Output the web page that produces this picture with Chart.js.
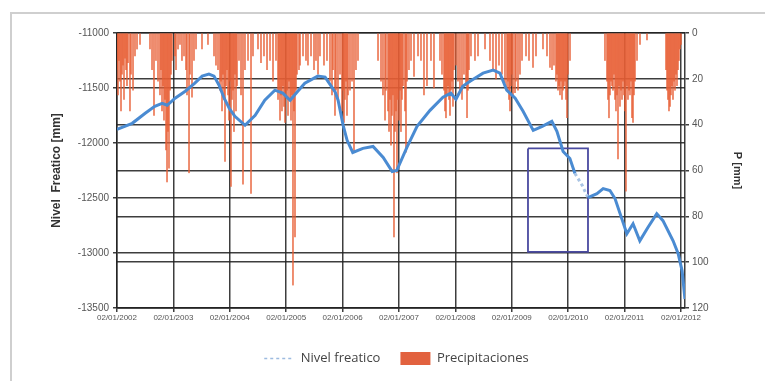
<!DOCTYPE html>
<html>
<head>
<meta charset="utf-8">
<script src="https://cdn.jsdelivr.net/npm/chart.js@4.4.1/dist/chart.umd.min.js"></script>
<style>
  html, body { margin: 0; padding: 0; background: #fff; }
  #wrap { position: relative; width: 765px; height: 381px; overflow: hidden; }
  #frame { position: absolute; left: 10px; top: 12px; width: 800px; height: 400px; border: 2px solid #cfcfcf; box-sizing: border-box; }
  canvas { position: absolute; left: 0; top: 0; }
</style>
</head>
<body>
<div id="wrap">
  <div id="frame"></div>
  <canvas id="c" width="765" height="381"></canvas>
</div>
<script>
// ---- Data ----
const yearTicks = [2002, 2003, 2004, 2005, 2006, 2007, 2008, 2009, 2010, 2011, 2012];

// Groundwater level (decimal year, mm)
const levelYear = [2002.00,2002.27,2002.50,2002.67,2002.80,2002.89,2003.03,2003.21,2003.38,2003.51,2003.63,2003.72,2003.81,2003.90,2003.99,2004.09,2004.27,2004.45,2004.62,2004.80,2004.94,2005.07,2005.19,2005.33,2005.56,2005.69,2005.87,2005.92,2006.01,2006.08,2006.18,2006.36,2006.54,2006.72,2006.88,2006.96,2007.14,2007.32,2007.55,2007.78,2007.92,2008.01,2008.13,2008.26,2008.49,2008.67,2008.79,2008.91,2009.06,2009.20,2009.38,2009.54,2009.71,2009.80,2009.91,2010.03,2010.12,2010.25,2010.35,2010.51,2010.62,2010.74,2010.83,2010.92,2011.04,2011.15,2011.27,2011.41,2011.57,2011.68,2011.86,2011.95,2012.02,2012.07];
const levelMm = [-11876,-11821,-11730,-11666,-11639,-11657,-11593,-11529,-11456,-11392,-11374,-11392,-11474,-11593,-11684,-11757,-11839,-11748,-11611,-11520,-11547,-11611,-11538,-11456,-11392,-11401,-11538,-11611,-11839,-11976,-12086,-12049,-12031,-12131,-12259,-12250,-12040,-11849,-11703,-11584,-11547,-11602,-11484,-11438,-11365,-11338,-11365,-11520,-11593,-11712,-11885,-11849,-11803,-11894,-12077,-12141,-12277,-12387,-12496,-12460,-12414,-12432,-12505,-12642,-12825,-12734,-12889,-12770,-12642,-12706,-12889,-13007,-13162,-13418];
// interval where the level record is interpolated (drawn dashed)
const gapFrom = 2010.12, gapTo = 2010.35;

// Precipitation (decimal year, mm)
const precipYear = [
 2002.000,2002.018,2002.035,2002.053,2002.071,2002.089,2002.106,2002.124,2002.142,2002.160,2002.177,2002.195,2002.230,2002.248,2002.284,2002.319,2002.355,2002.408,
 2002.585,2002.621,2002.656,2002.691,2002.727,2002.762,2002.780,2002.798,2002.816,2002.833,2002.851,2002.869,2002.887,2002.904,2002.922,2002.940,2002.957,2002.975,
 2003.028,2003.046,2003.082,2003.117,2003.152,2003.188,2003.223,2003.241,2003.277,2003.294,2003.330,2003.365,2003.401,2003.507,2003.613,
 2003.720,2003.755,2003.791,2003.826,2003.844,2003.862,2003.879,2003.897,2003.915,2003.933,2003.950,2003.968,2003.986,2004.003,2004.021,2004.039,2004.057,2004.074,2004.092,2004.110,2004.128,2004.163,2004.199,2004.234,2004.269,2004.323,2004.376,2004.411,
 2004.500,2004.553,2004.606,2004.660,2004.713,2004.766,2004.819,2004.855,2004.872,2004.890,2004.908,2004.925,2004.943,2004.961,2004.979,2004.996,2005.014,2005.032,2005.050,2005.067,2005.085,2005.103,2005.120,2005.138,2005.156,2005.174,2005.191,2005.227,2005.245,
 2005.298,2005.351,2005.386,2005.440,2005.493,2005.528,2005.564,2005.599,2005.670,2005.723,2005.776,2005.812,2005.830,2005.865,2005.883,2005.918,2005.954,2005.989,2006.007,2006.025,2006.042,2006.060,2006.078,2006.096,2006.131,2006.167,2006.202,2006.237,2006.273,
 2006.628,2006.681,2006.716,2006.752,2006.769,2006.805,2006.823,2006.840,2006.858,2006.876,2006.893,2006.911,2006.929,2006.947,2006.964,2006.982,2007.000,2007.018,2007.035,2007.053,2007.071,2007.106,2007.124,2007.142,2007.177,2007.213,2007.266,2007.337,2007.390,2007.443,2007.496,2007.567,2007.620,
 2007.727,2007.762,2007.798,2007.815,2007.833,2007.851,2007.869,2007.886,2007.904,2007.922,2007.940,2007.957,2007.975,2008.010,2008.046,2008.081,2008.117,2008.152,2008.188,2008.206,2008.223,2008.241,2008.276,2008.347,2008.401,2008.525,2008.613,
 2008.666,2008.720,2008.773,2008.826,2008.879,2008.915,2008.932,2008.950,2008.968,2008.986,2009.003,2009.021,2009.057,2009.074,2009.110,2009.145,2009.181,2009.252,2009.305,2009.376,2009.429,2009.553,2009.624,
 2009.677,2009.713,2009.748,2009.783,2009.801,2009.819,2009.837,2009.854,2009.872,2009.890,2009.908,2009.925,2009.943,2009.961,2009.979,2009.996,2010.032,
 2010.652,2010.688,2010.705,2010.723,2010.741,2010.759,2010.776,2010.794,2010.812,2010.830,2010.847,2010.865,2010.883,2010.900,2010.918,2010.936,2010.954,2010.971,2010.989,2011.007,2011.024,2011.042,2011.060,2011.078,2011.095,2011.113,2011.131,2011.149,2011.166,2011.184,2011.220,2011.273,2011.397,
 2011.734,2011.752,2011.769,2011.787,2011.805,2011.822,2011.840,2011.858,2011.876,2011.893,2011.911,2011.929,2011.947,2011.964,2011.982,2012.000
];
const precipMm = [
 16,27,12,21,34,18,14,29,11,16,23,13,34,18,25,10,7,5,
 7,16,36,12,21,27,16,34,23,38,29,51,65,43,59,25,18,12,
 10,16,7,5,12,10,16,27,61,18,28,12,7,7,5,
 10,14,16,25,21,34,18,29,56,23,16,27,38,21,67,29,25,43,18,34,23,12,27,66,16,12,70,10,
 7,13,10,16,12,21,12,29,25,38,27,34,23,32,39,27,25,36,21,29,38,27,110,34,89,25,18,16,14,
 10,12,14,10,16,12,18,10,14,12,21,27,16,36,25,29,18,34,25,39,29,21,36,27,25,21,52,16,12,
 12,21,27,38,25,34,43,29,49,36,27,89,43,34,61,29,38,25,43,29,23,34,52,21,16,12,19,10,12,27,23,12,24,
 12,18,25,34,37,27,23,29,36,25,21,32,16,14,21,25,29,18,23,37,25,16,10,12,10,7,12,
 16,20,14,18,22,25,21,29,34,23,18,27,26,21,25,18,12,10,12,15,10,7,10,
 15,16,14,21,18,25,23,27,21,29,25,23,21,29,37,18,12,
 12,21,29,37,27,21,23,25,18,29,34,27,55,23,32,25,29,21,27,34,69,23,29,25,27,21,37,39,27,21,12,5,3,
 16,25,29,34,32,27,23,29,21,25,18,23,16,12,7,5
];

// Highlight box drawn on the chart (decimal years, level mm)
const boxYear = [2009.287, 2010.351];
const boxLevel = [-12049, -12989];

// ---- Build datasets ----
const levelData = levelYear.map((x, i) => ({ x: x, y: levelMm[i] }));
const precipData = precipYear.map((x, i) => ({ x: x, y: precipMm[i] }));
const boxData = [
  { x: boxYear[0], y: boxLevel[0] }, { x: boxYear[1], y: boxLevel[0] },
  { x: boxYear[1], y: boxLevel[1] }, { x: boxYear[0], y: boxLevel[1] },
  { x: boxYear[0], y: boxLevel[0] }
];

const gridColor = 'rgba(35,35,35,0.88)';
const blue = '#4a8bd2';
const red = 'rgba(232,94,52,0.72)';

new Chart(document.getElementById('c'), {
  type: 'line',
  data: {
    datasets: [
      {
        label: 'Nivel freatico',
        data: levelData,
        yAxisID: 'y',
        borderColor: blue,
        borderWidth: 3,
        pointRadius: 0,
        tension: 0,
        order: 0,
        segment: {
          borderColor: ctx => (ctx.p0.parsed.x >= gapFrom && ctx.p1.parsed.x <= gapTo + 0.001) ? '#a9c4e4' : undefined,
          borderDash: ctx => (ctx.p0.parsed.x >= gapFrom && ctx.p1.parsed.x <= gapTo + 0.001) ? [3, 3] : undefined
        }
      },
      {
        type: 'bar',
        label: 'Precipitaciones',
        data: precipData,
        yAxisID: 'y1',
        backgroundColor: red,
        borderWidth: 0,
        barThickness: 1.3,
        order: 2
      },
      {
        label: 'box',
        data: boxData,
        yAxisID: 'y',
        borderColor: '#4a4aa0',
        borderWidth: 1.8,
        pointRadius: 0,
        tension: 0,
        order: 1
      }
    ]
  },
  options: {
    responsive: false,
    animation: false,
    layout: { padding: { left: 45, right: 17, top: 33, bottom: 6 } },
    plugins: {
      tooltip: { enabled: false },
      legend: {
        position: 'bottom',
        labels: {
          usePointStyle: true,
          pointStyleWidth: 30,
          boxHeight: 14,
          padding: 20,
          color: '#444',
          font: { family: 'Open Sans', size: 13 },
          generateLabels: () => [
            { text: 'Nivel freatico', pointStyle: 'line', strokeStyle: '#9dbbe0', fillStyle: '#9dbbe0', lineWidth: 1.5, lineDash: [3, 3], datasetIndex: 0, fontColor: '#444' },
            { text: 'Precipitaciones', pointStyle: 'rect', strokeStyle: '#e2623f', fillStyle: '#e2623f', lineWidth: 0, datasetIndex: 1, fontColor: '#444' }
          ]
        }
      }
    },
    scales: {
      x: {
        type: 'linear',
        offset: false,
        min: 2002,
        max: 2012.071,
        afterBuildTicks: s => { s.ticks = yearTicks.map(v => ({ value: v })); },
        afterFit: s => { s.height = 24; },
        ticks: {
          autoSkip: false, maxRotation: 0, padding: 1,
          color: '#555',
          font: { family: 'Liberation Sans', size: 8 },
          callback: v => '02/01/' + v
        },
        grid: { offset: false, color: gridColor, lineWidth: 1.5, tickLength: 4, tickColor: gridColor },
        border: { color: gridColor, width: 1.5 }
      },
      y: {
        position: 'left',
        min: -13500,
        max: -11000,
        afterFit: s => { s.width = 72; },
        ticks: {
          stepSize: 500, padding: 4,
          color: '#555',
          font: { family: 'Liberation Sans', size: 10 },
          callback: v => String(v)
        },
        grid: { color: gridColor, lineWidth: 1.5, tickLength: 4, tickColor: gridColor },
        border: { color: gridColor, width: 1.5 },
        title: {
          display: true,
          text: 'Nivel  Freatico [mm]',
          color: '#333',
          font: { family: 'Liberation Sans', size: 12, weight: 'bold' },
          padding: { top: 4, bottom: 4 }
        }
      },
      y1: {
        position: 'right',
        min: 0,
        max: 120,
        reverse: true,
        afterFit: s => { s.width = 63; },
        ticks: {
          stepSize: 20, padding: 3,
          color: '#555',
          font: { family: 'Liberation Sans', size: 10 }
        },
        grid: { color: gridColor, lineWidth: 1.5, tickLength: 4, tickColor: gridColor, drawOnChartArea: true },
        border: { color: gridColor, width: 1.5 },
        title: {
          display: true,
          text: 'P [mm]',
          color: '#333',
          font: { family: 'Liberation Sans', size: 11, weight: 'bold' },
          padding: { top: 4, bottom: 4 }
        }
      }
    }
  }
});
</script>
</body>
</html>
